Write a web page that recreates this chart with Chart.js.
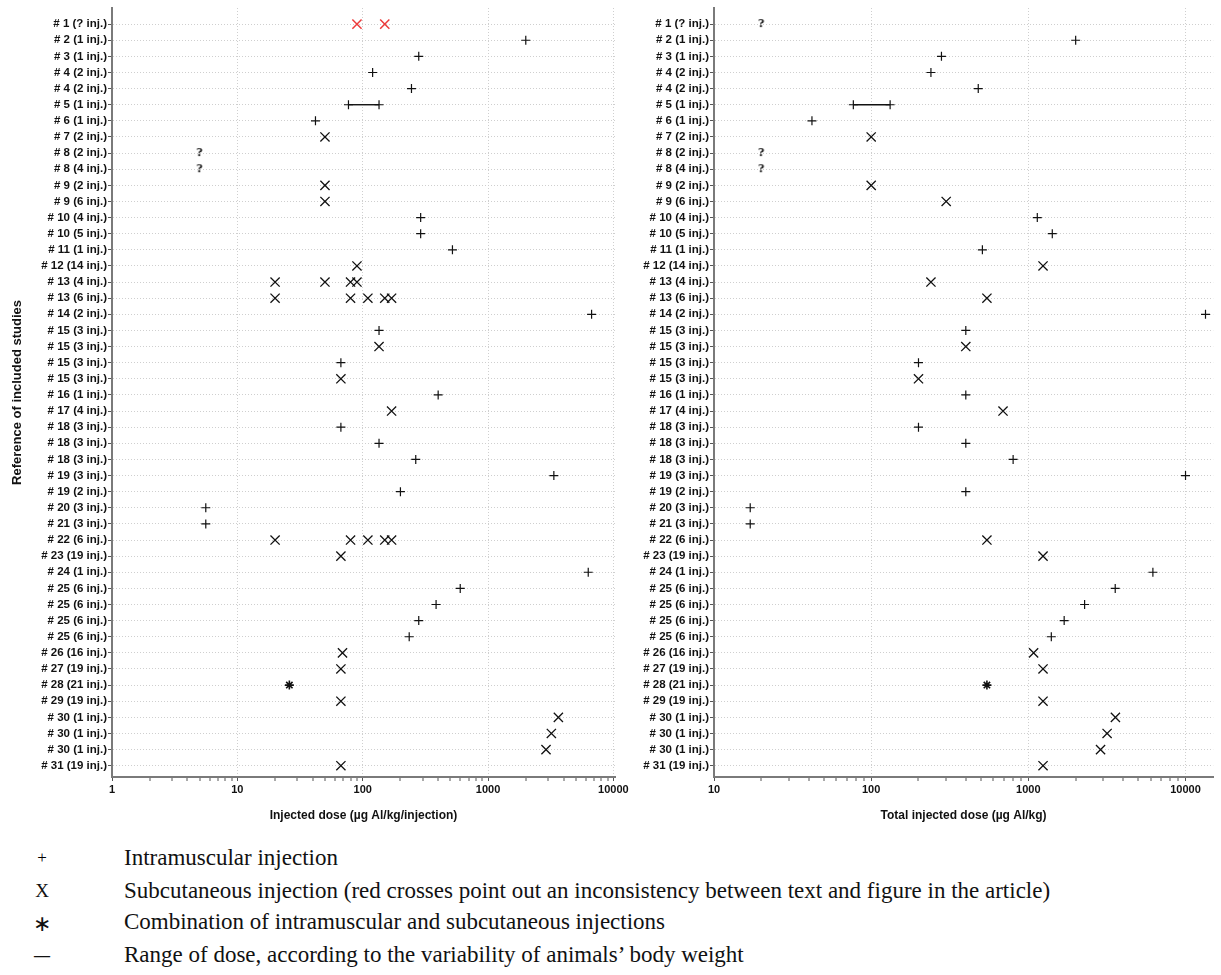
<!DOCTYPE html>
<html>
<head>
<meta charset="utf-8">
<script src="https://cdn.jsdelivr.net/npm/chart.js@4.4.1/dist/chart.umd.min.js"></script>
<style>
body{margin:0;background:#fff;width:1221px;height:975px;position:relative;overflow:hidden;}
canvas{position:absolute;top:0;}
#leftChart{left:0;}
#rightChart{left:630px;}
.sym,.txt{position:absolute;font-family:'Liberation Serif','Times New Roman',serif;font-size:23px;line-height:26px;color:#111;white-space:nowrap;}
.sym{width:40px;text-align:center;left:22px;}
.txt{left:124px;}
</style>
</head>
<body>
<canvas id="leftChart" width="630" height="832"></canvas>
<canvas id="rightChart" width="591" height="832"></canvas>

<div class="sym" style="top:845px;font-size:17px;color:#000">+</div>
<div class="txt" style="top:845px">Intramuscular injection</div>
<div class="sym" style="top:878px;font-size:19px">X</div>
<div class="txt" style="top:878px">Subcutaneous injection (red crosses point out an inconsistency between text and figure in the article)</div>
<div class="sym" style="top:911px;font-size:22px">∗</div>
<div class="txt" style="top:909px">Combination of intramuscular and subcutaneous injections</div>
<div class="sym" style="top:943px;font-weight:bold;font-size:16px">—</div>
<div class="txt" style="top:942px">Range of dose, according to the variability of animals’ body weight</div>

<script>
// study rows, top to bottom
const studies=["# 1 (? inj.)","# 2 (1 inj.)","# 3 (1 inj.)","# 4 (2 inj.)","# 4 (2 inj.)","# 5 (1 inj.)","# 6 (1 inj.)",
    "# 7 (2 inj.)","# 8 (2 inj.)","# 8 (4 inj.)","# 9 (2 inj.)","# 9 (6 inj.)","# 10 (4 inj.)","# 10 (5 inj.)","# 11 (1 inj.)",
    "# 12 (14 inj.)","# 13 (4 inj.)","# 13 (6 inj.)","# 14 (2 inj.)","# 15 (3 inj.)","# 15 (3 inj.)","# 15 (3 inj.)","# 15 (3 inj.)",
    "# 16 (1 inj.)","# 17 (4 inj.)","# 18 (3 inj.)","# 18 (3 inj.)","# 18 (3 inj.)","# 19 (3 inj.)","# 19 (2 inj.)","# 20 (3 inj.)",
    "# 21 (3 inj.)","# 22 (6 inj.)","# 23 (19 inj.)","# 24 (1 inj.)","# 25 (6 inj.)","# 25 (6 inj.)","# 25 (6 inj.)","# 25 (6 inj.)",
    "# 26 (16 inj.)","# 27 (19 inj.)","# 28 (21 inj.)","# 29 (19 inj.)","# 30 (1 inj.)","# 30 (1 inj.)","# 30 (1 inj.)","# 31 (19 inj.)"];

// left panel: dose per injection, [row, value]
const perInjIM=[[1,2000],[2,280],[3,120],[4,245],[6,42],[12,290],[13,290],[14,520],[18,6700],[19,135],[21,67],[23,400],
    [25,67],[26,135],[27,265],[28,3350],[29,200],[30,5.6],[31,5.6],[34,6300],[35,600],[36,385],[37,280],[38,235]];
const perInjSC=[[7,50],[10,50],[11,50],[15,90],[16,20],[16,50],[16,80],[16,90],[17,20],[17,80],[17,110],[17,150],[17,170],
    [20,135],[22,67],[24,170],[32,20],[32,80],[32,110],[32,150],[32,170],[33,67],[39,69],[40,67],[42,67],[43,3640],[44,3200],[45,2900],[46,67]];
const perInjSCRed=[[0,90],[0,150]];
const perInjMixed=[[41,26]];
const perInjUnknown=[[8,5],[9,5]];
const perInjRange=[[5,77],[5,135]];

// right panel: total dose, [row, value]
const totalIM=[[1,2000],[2,280],[3,240],[4,480],[6,42],[12,1140],[13,1420],[14,510],[18,13400],[19,400],[21,200],[23,400],
    [25,200],[26,400],[27,800],[28,10000],[29,400],[30,17],[31,17],[34,6200],[35,3570],[36,2280],[37,1690],[38,1400]];
const totalSC=[[7,100],[10,100],[11,300],[15,1240],[16,240],[17,545],[20,400],[22,200],[24,690],[32,545],[33,1240],
    [39,1080],[40,1240],[42,1240],[43,3580],[44,3170],[45,2880],[46,1240]];
const totalMixed=[[41,545]];
const totalUnknown=[[0,20],[8,20],[9,20]];
const totalRange=[[5,77],[5,132]];

const fontFamily="'Liberation Sans',Arial,sans-serif";
const labelFont={family:fontFamily,size:11.5,weight:'bold'};
const tickFont={family:fontFamily,size:11,weight:'bold'};
const titleFont={family:fontFamily,size:12,weight:'bold'};
const ink='#111';

// small "?" glyph used as point style
const qMark=document.createElement('canvas');
qMark.width=12;qMark.height=14;
(function(){
    let c=qMark.getContext('2d');
    c.fillStyle='#000';
    c.font="bold 13px 'Liberation Serif',serif";
    c.textAlign='center';c.textBaseline='middle';
    c.fillText('?',6,7);
})();

function pts(list){
    return list.map(p=>({x:p[1],y:p[0]}));
}

function isDecade(v){
    let l=Math.log10(v);
    return Math.abs(l-Math.round(l))<1e-6;
}

function makePanel(id,o){
    let ctx=document.getElementById(id).getContext('2d');
    return new Chart(ctx,{
        data:{
            datasets:[
                {type:'line',data:pts(o.range),borderColor:ink,borderWidth:1.4,pointStyle:'cross',pointRadius:4.5,pointBorderColor:ink,pointBorderWidth:1.2},
                {type:'scatter',data:pts(o.im),pointStyle:'cross',pointRadius:4.5,borderColor:ink,pointBorderWidth:1.2},
                {type:'scatter',data:pts(o.sc),pointStyle:'crossRot',pointRadius:6.5,borderColor:ink,pointBorderWidth:1.3},
                {type:'scatter',data:pts(o.scRed),pointStyle:'crossRot',pointRadius:6.5,borderColor:'#ec3b3b',pointBorderWidth:1.5},
                {type:'scatter',data:pts(o.mixed),pointStyle:'star',pointRadius:4.5,borderColor:ink,pointBorderWidth:1.6},
                {type:'scatter',data:pts(o.unknown),pointStyle:qMark,pointRadius:5}
            ]
        },
        options:{
            responsive:false,
            animation:false,
            layout:{padding:{top:8,right:o.padRight,left:0,bottom:0}},
            plugins:{legend:{display:false},tooltip:{enabled:false}},
            scales:{
                x:{
                    type:'logarithmic',
                    min:o.min,
                    max:o.max,
                    afterBuildTicks:function(scale){
                        let t=[];
                        for(let e=Math.round(Math.log10(o.min));Math.pow(10,e)<=o.max;e++){
                            for(let m=1;m<10;m++){
                                let v=m*Math.pow(10,e);
                                if(v>=o.min&&v<=o.max) t.push({value:v});
                            }
                        }
                        scale.ticks=t;
                    },
                    afterFit:function(scale){
                        scale.height=832-777;
                        scale.paddingLeft=0;
                        scale.paddingRight=0;
                    },
                    ticks:{
                        autoSkip:false,
                        maxRotation:0,
                        padding:2,
                        color:ink,
                        font:tickFont,
                        callback:function(v){return isDecade(v)?String(Math.round(v)):'';}
                    },
                    grid:{
                        color:'#cfcfcf',
                        lineWidth:function(c){return c.tick&&isDecade(c.tick.value)?1:0;},
                        tickColor:'#555',
                        tickWidth:1,
                        tickLength:4
                    },
                    border:{color:'#7a7a7a',width:2,dash:[1,2]},
                    title:{display:true,text:o.xTitle,color:ink,font:titleFont,padding:{top:0,bottom:9}}
                },
                y:{
                    type:'linear',
                    reverse:true,
                    min:-1,
                    max:studies.length-0.3,
                    afterBuildTicks:function(scale){
                        scale.ticks=studies.map((s,i)=>({value:i}));
                    },
                    afterFit:function(scale){
                        scale.width=o.axisLeft;
                        scale.paddingTop=0;
                        scale.paddingBottom=0;
                    },
                    ticks:{
                        autoSkip:false,
                        padding:1,
                        color:ink,
                        font:labelFont,
                        callback:function(v){return studies[v]!==undefined?studies[v]:'';}
                    },
                    grid:{color:'#cfcfcf',lineWidth:1,tickColor:'#555',tickWidth:1,tickLength:4},
                    border:{color:'#7a7a7a',width:2,dash:[1,2]},
                    title:{display:o.yTitle!=='',text:o.yTitle,color:ink,font:{family:fontFamily,size:13,weight:'bold'},padding:{top:10,bottom:0}}
                }
            }
        }
    });
}

makePanel('leftChart',{
    im:perInjIM,sc:perInjSC,scRed:perInjSCRed,mixed:perInjMixed,unknown:perInjUnknown,range:perInjRange,
    min:1,max:10300,axisLeft:112,padRight:15,
    xTitle:'Injected dose (µg Al/kg/injection)',yTitle:'Reference of included studies'
});
makePanel('rightChart',{
    im:totalIM,sc:totalSC,scRed:[],mixed:totalMixed,unknown:totalUnknown,range:totalRange,
    min:10,max:15000,axisLeft:84,padRight:5,
    xTitle:'Total injected dose (µg Al/kg)',yTitle:''
});
</script>
</body>
</html>
